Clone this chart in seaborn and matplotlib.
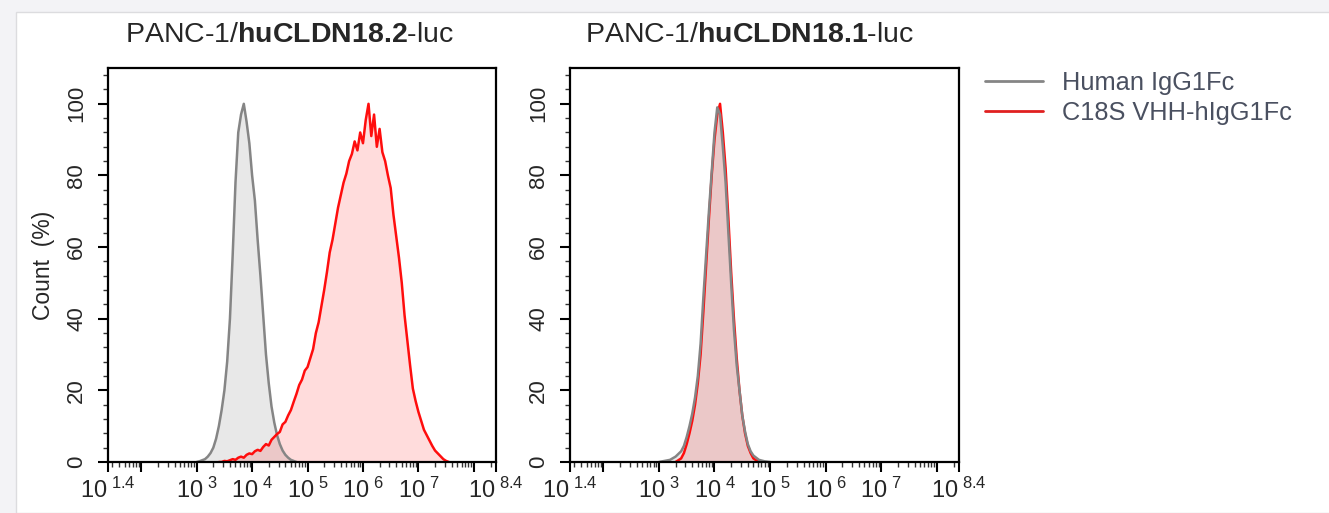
import numpy as np
import pandas as pd
import matplotlib
matplotlib.use("Agg")
import matplotlib.pyplot as plt
from matplotlib.patches import Rectangle
import seaborn as sns

# x = log10 fluorescence, y = count (%)
# left panel: PANC-1/huCLDN18.2-luc
igg_182_x = [3.00, 3.05, 3.10, 3.15, 3.20, 3.25, 3.30, 3.35, 3.40, 3.45, 3.50, 3.55, 3.60,
             3.65, 3.70, 3.75, 3.80, 3.85, 3.90, 3.95, 4.00, 4.05, 4.10, 4.15, 4.20, 4.25,
             4.30, 4.35, 4.40, 4.45, 4.50, 4.55, 4.60, 4.65, 4.70, 4.75, 4.80]
igg_182_y = [0, 0.2, 0.5, 0.8, 1.5, 2.5, 4.0, 6.5, 10.0, 14.5, 20.0, 28.0, 40.0,
             58.0, 78.0, 92.0, 97.0, 100, 95.0, 89.0, 80.0, 73.0, 62.0, 52.0, 41.0, 30.0,
             22.0, 15.5, 11.0, 7.5, 5.0, 3.2, 2.0, 1.2, 0.6, 0.3, 0]
vhh_182_x = [3.40, 3.45, 3.50, 3.55, 3.60, 3.65, 3.70, 3.75, 3.80, 3.85, 3.90, 3.95, 4.00,
             4.05, 4.10, 4.15, 4.20, 4.25, 4.30, 4.35, 4.40, 4.45, 4.50, 4.55, 4.60, 4.65,
             4.70, 4.75, 4.80, 4.85, 4.90, 4.95, 5.00, 5.05, 5.10, 5.15, 5.20, 5.25, 5.30,
             5.35, 5.40, 5.45, 5.50, 5.55, 5.60, 5.65, 5.70, 5.75, 5.80, 5.85, 5.90, 5.95,
             6.00, 6.05, 6.10, 6.15, 6.20, 6.25, 6.30, 6.35, 6.40, 6.45, 6.50, 6.55, 6.60,
             6.65, 6.70, 6.75, 6.80, 6.85, 6.90, 6.95, 7.00, 7.05, 7.10, 7.15, 7.20, 7.25,
             7.30, 7.35, 7.40, 7.45, 7.50, 7.55]
vhh_182_y = [0, 0, 0.3, 0.2, 0.5, 0.8, 0.6, 1.2, 1.5, 1.2, 2.0, 2.4, 2.2,
             3.0, 3.4, 3.1, 4.2, 5.0, 4.6, 6.2, 7.0, 7.8, 8.4, 10.5, 11.2, 13.0,
             14.5, 16.8, 19.0, 21.5, 23.0, 25.5, 26.5, 29.0, 31.5, 36.0, 39.0, 43.5, 48.0,
             53.0, 58.5, 62.0, 66.5, 71.0, 74.5, 78.0, 80.5, 84.0, 86.0, 89.5, 87.0, 92.0,
             89.0, 95.5, 100, 91.0, 97.0, 88.0, 93.0, 86.5, 84.0, 80.0, 76.5, 69.0, 63.0,
             57.0, 50.0, 41.0, 34.0, 27.0, 20.5, 17.0, 14.0, 11.5, 9.0, 7.5, 6.0, 4.5,
             3.2, 2.4, 1.6, 0.8, 0.3, 0]

# right panel: PANC-1/huCLDN18.1-luc
igg_181_x = [3.00, 3.10, 3.20, 3.30, 3.40, 3.45, 3.50, 3.55, 3.60, 3.65, 3.70, 3.75, 3.80,
             3.85, 3.90, 3.95, 4.00, 4.05, 4.10, 4.15, 4.20, 4.25, 4.30, 4.35, 4.40, 4.45,
             4.50, 4.55, 4.60, 4.65, 4.70, 4.80, 4.90, 5.00]
igg_181_y = [0, 0.3, 0.6, 1.5, 3.0, 4.5, 7.0, 10.0, 13.5, 18.0, 24.0, 33.0, 46.0,
             58.0, 70.0, 81.0, 92.0, 99.0, 97.0, 88.0, 78.0, 64.0, 50.0, 37.0, 27.0, 20.0,
             13.0, 8.5, 5.0, 3.0, 1.8, 0.6, 0.2, 0]
vhh_181_x = [3.30, 3.40, 3.45, 3.50, 3.55, 3.60, 3.65, 3.70, 3.75, 3.80, 3.85, 3.90, 3.95,
             4.00, 4.05, 4.10, 4.15, 4.20, 4.25, 4.30, 4.35, 4.40, 4.45, 4.50, 4.55, 4.60,
             4.65, 4.70, 4.80]
vhh_181_y = [0, 1.0, 2.5, 5.0, 8.0, 11.5, 16.0, 22.0, 30.0, 42.0, 55.0, 68.0, 80.0,
             90.0, 97.0, 100, 92.0, 82.0, 68.0, 53.0, 40.0, 29.0, 20.0, 13.0, 8.0, 4.5,
             2.5, 1.0, 0]

series_names = ["Human IgG1Fc", "C18S VHH-hIgG1Fc"]
panel_titles = [r"PANC-1/$\mathbf{huCLDN18.2}$-luc", r"PANC-1/$\mathbf{huCLDN18.1}$-luc"]
xtick_pos = [1.4, 3, 4, 5, 6, 7, 8.4]
xtick_txt = ["1.4", "3", "4", "5", "6", "7", "8.4"]
ytick_pos = [0, 20, 40, 60, 80, 100]

sns.set_style("ticks")
plt.rcParams["font.family"] = ["Liberation Sans", "DejaVu Sans"]
plt.rcParams["mathtext.fontset"] = "custom"
plt.rcParams["mathtext.rm"] = "Liberation Sans"
plt.rcParams["mathtext.bf"] = "Liberation Sans:bold"
plt.rcParams["mathtext.it"] = "Liberation Sans:italic"

GREY = "#858585"
RED = "#ff0d0d"

fig = plt.figure(figsize=(13.29, 5.13), dpi=100)
fig.patch.set_facecolor("#f3f3f6")
fig.add_artist(Rectangle((16 / 1329, 0), 1, 501 / 513, transform=fig.transFigure,
                         facecolor="white", edgecolor="#dcdcdf", lw=1.0, zorder=0))

W, H = 1329, 513
ax1 = fig.add_axes([108 / W, (H - 462) / H, 388 / W, 394 / H])
ax2 = fig.add_axes([570 / W, (H - 462) / H, 389 / W, 394 / H])

panels = [
    (ax1, igg_182_x, igg_182_y, vhh_182_x, vhh_182_y),
    (ax2, igg_181_x, igg_181_y, vhh_181_x, vhh_181_y),
]
title_x = [0.469, 0.461]

minor_x = [np.log10(k * 10.0 ** n) for n in range(1, 9) for k in range(2, 10)]
minor_x = [m for m in minor_x if 1.4 < m < 8.4]
major_x = [1.4, 2, 3, 4, 5, 6, 7, 8, 8.4]

for i, (ax, gx, gy, rx, ry) in enumerate(panels):
    ax.set_facecolor("white")
    ax.fill_between(gx, gy, 0, color="#c4c4c4", alpha=0.38, lw=0)
    ax.fill_between(rx, ry, 0, color="#ff3030", alpha=0.17, lw=0)
    df = pd.concat([
        pd.DataFrame({"x": gx, "y": gy, "sample": series_names[0]}),
        pd.DataFrame({"x": rx, "y": ry, "sample": series_names[1]}),
    ])
    order = series_names if i == 0 else series_names[::-1]
    sns.lineplot(data=df, x="x", y="y", hue="sample", hue_order=order,
                 palette={series_names[0]: GREY, series_names[1]: RED},
                 lw=1.8, sort=False, legend=False, ax=ax)

    ax.set_xlim(1.4, 8.4)
    ax.set_ylim(0, 110)
    ax.set_xticks(major_x)
    lab = {p: t for p, t in zip(xtick_pos, xtick_txt)}
    ax.set_xticklabels([r"$10^{\ %s}$" % lab[p] if p in lab else "" for p in major_x])
    ax.set_xticks(minor_x, minor=True)
    ax.set_yticks(ytick_pos)
    ax.set_yticks(range(4, 110, 4), minor=True)
    ax.tick_params(axis="both", which="major", length=7, width=1.5,
                   color="black", direction="out")
    ax.tick_params(axis="both", which="minor", length=3.5, width=1.0, color="#333333")
    ax.tick_params(axis="x", pad=4, labelsize=17)
    ax.tick_params(axis="y", labelrotation=90, pad=8, labelsize=16)
    for t in ax.get_yticklabels():
        t.set_va("center")
    for s in ax.spines.values():
        s.set_visible(True)
        s.set_linewidth(1.6)
        s.set_color("black")
    ax.set_xlabel("")
    ax.set_ylabel("")
    ax.set_title(panel_titles[i], fontsize=20.5, pad=19, x=title_x[i])

ax1.set_ylabel("Count  (%)", fontsize=16.5, labelpad=8)

handles = [plt.Line2D([], [], color=GREY, lw=2), plt.Line2D([], [], color="#e02020", lw=2)]
fig.legend(handles, series_names, loc="upper left", bbox_to_anchor=(962 / W, 1 - 48 / H),
           frameon=False, fontsize=18.3, handlelength=2.3, handletextpad=0.75,
           labelspacing=0.25, labelcolor="#4a5060")

fig.savefig("out.png", dpi=100, facecolor=fig.get_facecolor())
